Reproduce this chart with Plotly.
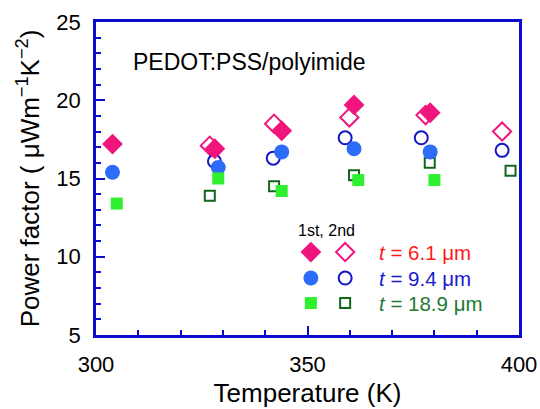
import plotly.graph_objects as go

# ---- data ----
T_d1 = [303.9, 328.1, 343.9, 361.0, 379.0]
PF_d1 = [17.2, 16.9, 18.05, 19.7, 19.2]
T_d2 = [326.9, 342.1, 359.9, 377.9, 396.0]
PF_d2 = [17.1, 18.5, 18.9, 19.05, 18.0]

T_c1 = [303.9, 328.9, 343.9, 361.0, 379.0]
PF_c1 = [15.4, 15.7, 16.7, 16.9, 16.7]
T_c2 = [328.0, 341.9, 358.9, 376.9, 396.0]
PF_c2 = [16.1, 16.3, 17.6, 17.6, 16.8]

T_s1 = [304.9, 328.9, 343.9, 362.0, 380.0]
PF_s1 = [13.4, 15.0, 14.2, 14.9, 14.9]
T_s2 = [326.9, 342.1, 361.0, 378.9, 398.0]
PF_s2 = [13.9, 14.5, 15.2, 16.0, 15.5]

legend_labels = ["<i>t</i> = 6.1 \u03bcm", "<i>t</i> = 9.4 \u03bcm", "<i>t</i> = 18.9 \u03bcm"]

PINK = "#f0157d"
BLUE_F = "#2d6cf8"
BLUE_O = "#1616c8"
GREEN_F = "#2ef02e"
GREEN_O = "#12661c"
TXT = ["#ff1a1a", "#1a1acc", "#237a30"]
AXC = "#0b0bcc"
FONT = "Arial, Liberation Sans, sans-serif"

fig = go.Figure()

def add(x, y, sym, color, size, filled):
    if filled:
        m = dict(symbol=sym, size=size, color=color, line=dict(width=0))
    else:
        m = dict(symbol=sym + "-open", size=size, color=color, line=dict(width=2, color=color))
    fig.add_trace(go.Scatter(x=x, y=y, mode="markers", marker=m, showlegend=False, hoverinfo="skip"))

# open (2nd) first, filled (1st) on top
add(T_d2, PF_d2, "diamond", PINK, 14, False)
add(T_c2, PF_c2, "circle", BLUE_O, 13, False)
add(T_s2, PF_s2, "square", GREEN_O, 10, False)
add(T_d1, PF_d1, "diamond", PINK, 16, True)
add(T_c1, PF_c1, "circle", BLUE_F, 15, True)
add(T_s1, PF_s1, "square", GREEN_F, 12, True)

# legend block drawn on an overlay axis (0..1)
leg_x_filled = 0.508
leg_x_open = 0.589
leg_rows = [0.265, 0.182, 0.102]
styles = [("diamond", PINK, PINK, 16, 14), ("circle", BLUE_F, BLUE_O, 15, 13), ("square", GREEN_F, GREEN_O, 12, 10)]
for (sym, cf, co, sf, so), yy in zip(styles, leg_rows):
    fig.add_trace(go.Scatter(x=[leg_x_filled], y=[yy], xaxis="x2", yaxis="y2", mode="markers",
                             marker=dict(symbol=sym, size=sf, color=cf), showlegend=False, hoverinfo="skip"))
    fig.add_trace(go.Scatter(x=[leg_x_open], y=[yy], xaxis="x2", yaxis="y2", mode="markers",
                             marker=dict(symbol=sym + "-open", size=so, color=co, line=dict(width=2, color=co)),
                             showlegend=False, hoverinfo="skip"))

annotations = [
    dict(text="PEDOT:PSS/polyimide", x=0.083, y=0.872, xref="paper", yref="paper", xanchor="left",
         yanchor="middle", showarrow=False, font=dict(family=FONT, size=23, color="black")),
    dict(text="1st, 2nd", x=0.546, y=0.335, xref="paper", yref="paper", xanchor="center",
         yanchor="middle", showarrow=False, font=dict(family=FONT, size=16, color="black")),
]
for lab, yy, c in zip(legend_labels, leg_rows, TXT):
    annotations.append(dict(text=lab, x=0.664, y=yy, xref="paper", yref="paper", xanchor="left",
                            yanchor="middle", showarrow=False, font=dict(family=FONT, size=20.5, color=c)))

axis_common = dict(showline=True, linecolor=AXC, linewidth=2.5, mirror=True, ticks="inside",
                   tickcolor=AXC, tickwidth=2, ticklen=9, showgrid=False, zeroline=False,
                   automargin=False,
                   tickfont=dict(family=FONT, size=22, color="black"))

fig.update_layout(
    width=540, height=409,
    margin=dict(l=96, r=21, t=22, b=74),
    paper_bgcolor="white", plot_bgcolor="white",
    xaxis=dict(range=[300, 400], tick0=300, dtick=50,
               minor=dict(dtick=10, ticks="inside", ticklen=5, tickcolor=AXC, tickwidth=2),
               ticklabelstandoff=8,
               title=dict(text="Temperature (K)", font=dict(family=FONT, size=26, color="black"), standoff=8),
               **axis_common),
    yaxis=dict(range=[5, 25], tick0=5, dtick=5,
               minor=dict(dtick=1, ticks="inside", ticklen=5, tickcolor=AXC, tickwidth=2),
               ticklabelstandoff=8,
               title=dict(text="Power factor ( \u03bcWm<sup>\u22121</sup>K<sup>\u22122</sup>)",
                          font=dict(family=FONT, size=26, color="black"), standoff=10),
               **axis_common),
    xaxis2=dict(range=[0, 1], overlaying="x", visible=False, fixedrange=True),
    yaxis2=dict(range=[0, 1], overlaying="y", visible=False, fixedrange=True),
    annotations=annotations,
    showlegend=False,
)

fig.write_html("out.html", config={"displayModeBar": False},
               post_script="document.body.style.margin='0';")
